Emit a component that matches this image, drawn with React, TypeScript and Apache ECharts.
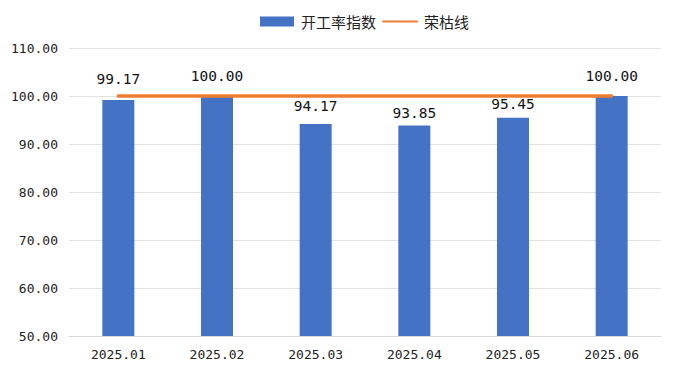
import React, { useEffect, useRef } from "react";
import * as echarts from "echarts";

const categories = ["2025.01", "2025.02", "2025.03", "2025.04", "2025.05", "2025.06"];
const indexValues = [99.17, 100.0, 94.17, 93.85, 95.45, 100.0];
const boomLine = [100, 100, 100, 100, 100, 100];
// distance of each value label above its bar (px), as placed in the original
const labelDistances = [13, 13, 10.5, 5, 6, 13];

const CJK = "'Noto Sans CJK SC', 'Noto Sans', sans-serif";
const MONO = "'DejaVu Sans Mono', 'Liberation Mono', monospace";

export default function App() {
  const ref = useRef<HTMLDivElement>(null);
  useEffect(() => {
    if (!ref.current) return;
    const chart = echarts.init(ref.current, null, { renderer: "svg" });
    chart.setOption({
      animation: false,
      textStyle: { fontFamily: MONO },
      legend: {
        top: 9,
        left: 255,
        itemWidth: 34,
        itemHeight: 10,
        itemGap: 6,
        textStyle: { fontSize: 15, color: "#222", fontFamily: CJK, padding: [0, 0, 0, 2] },
        data: [
          { name: "开工率指数", icon: "rect" },
          { name: "荣枯线", itemStyle: { opacity: 0 } },
        ],
      },
      grid: { left: 69, right: 20, top: 48, bottom: 34 },
      xAxis: {
        type: "category",
        data: categories,
        axisTick: { show: false },
        axisLine: { lineStyle: { color: "#d9d9d9" } },
        axisLabel: { fontSize: 13, color: "#222", margin: 12, fontFamily: MONO },
      },
      yAxis: {
        type: "value",
        min: 50,
        max: 110,
        interval: 10,
        axisLine: { show: false },
        axisTick: { show: false },
        splitLine: { lineStyle: { color: "#e3e3e3" } },
        axisLabel: {
          fontSize: 13,
          color: "#222",
          margin: 11,
          fontFamily: MONO,
          formatter: (v: number) => v.toFixed(2),
        },
      },
      series: [
        {
          name: "开工率指数",
          type: "bar",
          data: indexValues.map((v, i) => ({ value: v, label: { distance: labelDistances[i] } })),
          barWidth: 32,
          itemStyle: { color: "#4472c4" },
          label: {
            show: true,
            position: "top",
            fontSize: 14.5,
            color: "#111",
            fontFamily: MONO,
            formatter: (p: any) => Number(p.value).toFixed(2),
          },
          z: 2,
        },
        {
          name: "荣枯线",
          type: "line",
          data: boomLine,
          symbol: "none",
          lineStyle: { color: "#ed7d31", width: 3.5, cap: "round" },
          itemStyle: { color: "#ed7d31" },
          z: 3,
        },
      ],
    });
    return () => chart.dispose();
  }, []);
  return <div ref={ref} style={{ width: 681, height: 370, position: "absolute", left: 0, top: 0 }} />;
}
